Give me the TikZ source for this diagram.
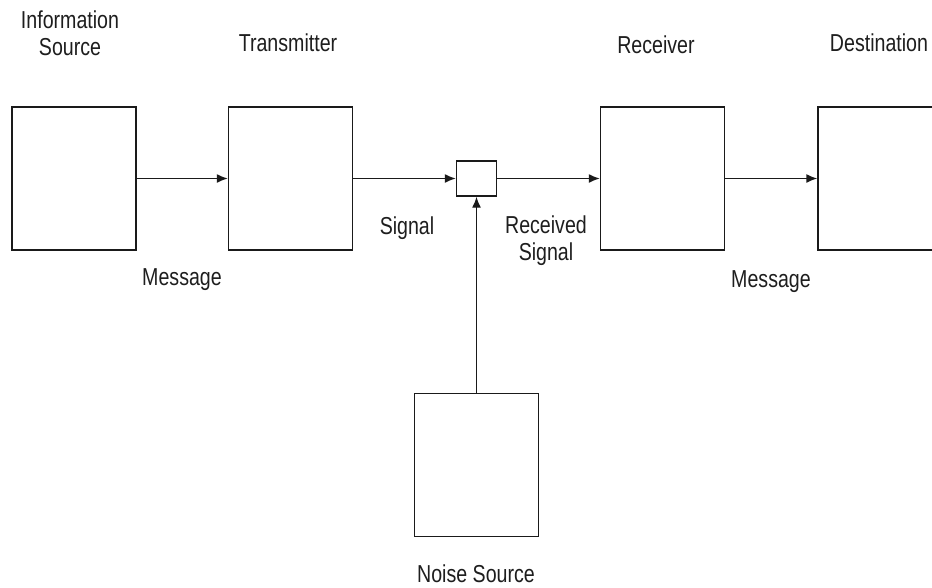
\documentclass[tikz,border=0pt]{standalone}
\usepackage{fontspec}
\setmainfont{Liberation Sans}[FakeStretch=0.8]
\usetikzlibrary{arrows.meta}
\definecolor{ink}{HTML}{1A1A1A}
\definecolor{txt}{HTML}{1E1E1E}
\tikzset{
  blk/.style={draw=ink, line width=1.4pt, fill=white, minimum width=124pt, minimum height=143pt, inner sep=0pt},
  junc/.style={draw=ink, line width=1.4pt, fill=white, minimum width=40pt, minimum height=35pt, inner sep=0pt},
  arr/.style={draw=ink, line width=1.4pt, -{Latex[length=11pt,width=9pt]}},
  lbl/.style={text=txt, font=\fontsize{24.5}{27}\selectfont, align=center, inner sep=0pt}
}
\begin{document}
\begin{tikzpicture}[x=1pt,y=-1pt]
\path[use as bounding box, clip] (0,0) rectangle (932,587);
\fill[white] (0,0) rectangle (932,587);
\node[blk] (src) at (74,178.5) {};
\node[blk] (tx) at (290.5,178.5) {};
\node[junc] (j) at (476.5,178.5) {};
\node[blk] (rx) at (662.5,178.5) {};
\node[blk] (dst) at (880,178.5) {};
\node[blk] (noise) at (476.5,465) {};
\draw[arr] (src) -- (tx);
\draw[arr] (tx) -- (j);
\draw[arr] (j) -- (rx);
\draw[arr] (rx) -- (dst);
\draw[arr] (noise) -- (j);
\node[lbl] (tsrc) at (70,33) {Information\\Source};
\node[lbl] (ttx) at (288,43) {Transmitter};
\node[lbl] (trx) at (656,45) {Receiver};
\node[lbl] (tdst) at (879,43) {Destination};
\node[lbl] (tm1) at (182,280) {Message};
\node[lbl] (tsig) at (407,228) {Signal};
\node[lbl] (trs) at (546,241) {Received\\Signal};
\node[lbl] (tm2) at (771,282) {Message};
\node[lbl] (tns) at (476,574) {Noise Source};
\end{tikzpicture}
\end{document}
